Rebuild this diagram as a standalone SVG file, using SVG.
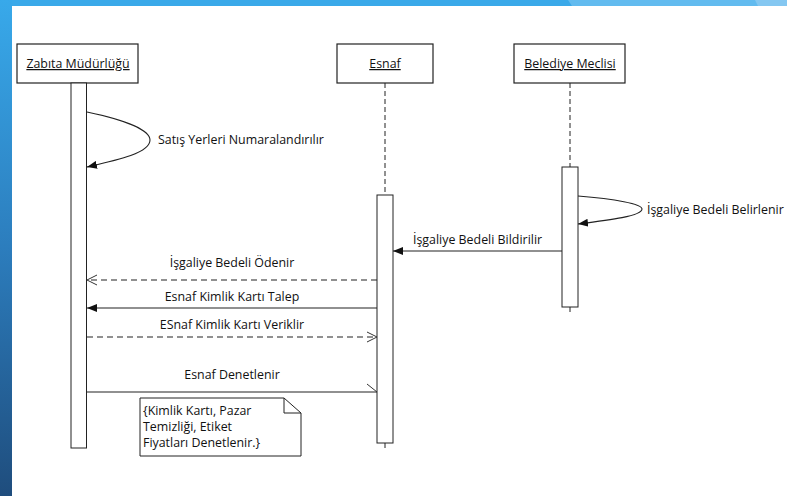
<svg xmlns="http://www.w3.org/2000/svg" width="787" height="496" viewBox="0 0 787 496">
<defs>
<linearGradient id="sideGrad" x1="0" y1="0" x2="0" y2="1">
<stop offset="0" stop-color="#38a9ea"/>
<stop offset="0.5" stop-color="#2c7dbd"/>
<stop offset="1" stop-color="#1f4d7d"/>
</linearGradient>
<marker id="filled" markerUnits="userSpaceOnUse" viewBox="0 0 10 8" refX="10" refY="4" markerWidth="10" markerHeight="8" orient="auto">
<path d="M0,0 L10,4 L0,8 z" fill="#111"/>
</marker>
<marker id="open" markerUnits="userSpaceOnUse" viewBox="0 0 12 12" refX="11" refY="6" markerWidth="12" markerHeight="12" orient="auto">
<path d="M1,1 L11,6 L1,11" fill="none" stroke="#333" stroke-width="1"/>
</marker>
<marker id="half" markerUnits="userSpaceOnUse" viewBox="0 0 12 10" refX="11" refY="9" markerWidth="12" markerHeight="10" orient="auto">
<path d="M1,1 L11,9" fill="none" stroke="#333" stroke-width="1"/>
</marker>
<style>
.head{fill:#fff;stroke:#222;stroke-width:1.2}
.act{fill:#fff;stroke:#222;stroke-width:1}
.life{stroke:#222;stroke-width:1;stroke-dasharray:5 3;fill:none}
.t{font-family:"Open Sans","Liberation Sans",sans-serif;font-size:12.4px;fill:#111}
.hd{text-anchor:middle;text-decoration:underline}
.msg{stroke:#222;stroke-width:1.1;fill:none}
.dash{stroke-dasharray:6 4}
.mid{text-anchor:middle}
</style>
</defs>
<rect width="787" height="496" fill="#fff"/>
<g id="background">
<rect x="0" y="0" width="787" height="6" fill="#3aa9e9"/>
<polygon points="568,0 757,0 759,6 572,6" fill="#62bbef"/>
<polygon points="755,0 787,0 787,6 758,6" fill="#84c7f1"/>
<rect x="0" y="0" width="12" height="496" fill="url(#sideGrad)"/>
</g>
<g id="zabita">
<rect class="head" x="17" y="44" width="121" height="39"/>
<text class="t hd" x="78" y="68">Zabıta Müdürlüğü</text>
<rect class="act" x="71" y="83" width="15.5" height="365"/>
</g>
<g id="esnaf">
<rect class="head" x="337" y="44" width="96" height="39"/>
<text class="t hd" x="385" y="68">Esnaf</text>
<line class="life" x1="385" y1="83" x2="385" y2="195"/>
<rect class="act" x="377" y="195" width="16" height="248"/>
<line class="life" x1="385" y1="443" x2="385" y2="451"/>
</g>
<g id="belediye">
<rect class="head" x="514" y="44" width="111" height="39"/>
<text class="t hd" x="570" y="68">Belediye Meclisi</text>
<line class="life" x1="570" y1="83" x2="570" y2="167"/>
<rect class="act" x="562" y="167" width="16" height="140"/>
<line class="life" x1="570" y1="307" x2="570" y2="314"/>
</g>
<g id="note">
<path d="M140,398 L284,398 L301,413 L301,456 L140,456 z" fill="#fff" stroke="#222" stroke-width="1"/>
<path d="M284,398 L284,413 L301,413" fill="none" stroke="#222" stroke-width="1"/>
<text class="t" x="143" y="415">{Kimlik Kartı, Pazar</text>
<text class="t" x="143" y="431">Temizliği, Etiket</text>
<text class="t" x="143" y="447">Fiyatları Denetlenir.}</text>
</g>
<g id="connectors">
<path class="msg" d="M87,112 C125,120 150,130 150,140 C150,153 118,160 87,167" marker-end="url(#filled)"/>
<path class="msg" d="M578,196 C615,199 642,204 642,209 C642,216 610,220 578,224" marker-end="url(#filled)"/>
<line class="msg" x1="562" y1="251" x2="393" y2="251" stroke="#555" marker-end="url(#filled)"/>
<line class="msg dash" x1="377" y1="280" x2="87" y2="280" marker-end="url(#open)"/>
<line class="msg" x1="377" y1="308" x2="87" y2="308" marker-end="url(#filled)"/>
<line class="msg dash" x1="87" y1="337" x2="377" y2="337" marker-end="url(#open)"/>
<line class="msg" x1="87" y1="392" x2="377" y2="392" marker-end="url(#half)"/>
</g>
<g id="labels">
<text class="t" x="158" y="144">Satış Yerleri Numaralandırılır</text>
<text class="t" x="647" y="214">İşgaliye Bedeli Belirlenir</text>
<text class="t" x="413" y="244">İşgaliye Bedeli Bildirilir</text>
<text class="t mid" x="232" y="267">İşgaliye Bedeli Ödenir</text>
<text class="t mid" x="232" y="301">Esnaf Kimlik Kartı Talep</text>
<text class="t mid" x="232" y="329">ESnaf Kimlik Kartı Veriklir</text>
<text class="t mid" x="232" y="379">Esnaf Denetlenir</text>
</g>
</svg>
